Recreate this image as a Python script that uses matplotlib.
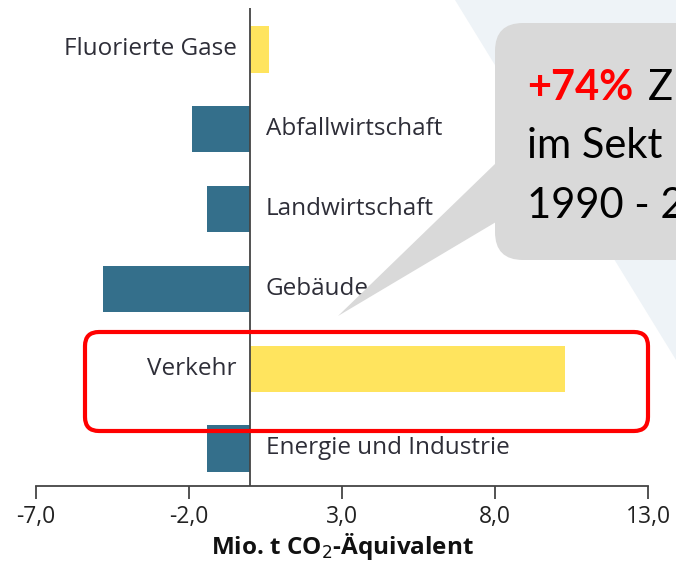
import matplotlib.pyplot as plt
from matplotlib.patches import FancyBboxPatch, Polygon

# data (Mio. t CO2-Äquivalent), bottom to top
sectors = ['Energie und Industrie', 'Verkehr', 'Gebäude',
           'Landwirtschaft', 'Abfallwirtschaft', 'Fluorierte Gase']
values = [-1.4, 10.3, -4.8, -1.4, -1.9, 0.6]
ticks = [-7, -2, 3, 8, 13]
tick_labels = ['-7,0', '-2,0', '3,0', '8,0', '13,0']

teal = '#346f8b'
yellow = '#ffe45e'
label_col = '#2e2e38'

fig = plt.figure(figsize=(6.76, 5.70), dpi=100)
fig.patch.set_facecolor('white')

# background overlay in pixel coords (light diagonal shape)
bg = fig.add_axes([0, 0, 1, 1], zorder=0)
bg.set_xlim(0, 676)
bg.set_ylim(570, 0)
bg.axis('off')
bg.add_patch(Polygon([(455, 0), (676, 0), (676, 360)], closed=True,
                     facecolor='#eef3f7', edgecolor='none'))

# main chart
ax = fig.add_axes([36 / 676, 84 / 570, 612 / 676, 478 / 570], zorder=1)
ax.set_facecolor('none')
y = list(range(len(sectors)))
colors = [yellow if v > 0 else teal for v in values]
ax.barh(y, values, height=0.58, color=colors, zorder=2)
ax.axvline(0, color='#444444', lw=1.3, zorder=3)

for yi, v, name in zip(y, values, sectors):
    if v < 0:
        ax.text(0.5, yi, name, ha='left', va='center', fontsize=17.5,
                family='Open Sans', color=label_col)
    else:
        ax.text(-0.45, yi, name, ha='right', va='center', fontsize=17.5,
                family='Open Sans', color=label_col)

ax.set_xlim(-7, 13)
ax.set_ylim(-0.47, 5.52)
ax.set_yticks([])
ax.set_xticks(ticks)
ax.set_xticklabels(tick_labels, fontsize=16.5, family='Open Sans', color='#222222')
ax.tick_params(axis='x', length=9, width=1.3, color='#444444', pad=5)
for s in ['top', 'right', 'left']:
    ax.spines[s].set_visible(False)
ax.spines['bottom'].set_color('#444444')
ax.spines['bottom'].set_linewidth(1.3)
ax.set_xlabel('Mio. t CO$_2$-Äquivalent', fontsize=17.5, fontweight='bold',
              family='Open Sans', color='#111111', labelpad=1)

# callout and highlight on top
ov = fig.add_axes([0, 0, 1, 1], zorder=3)
ov.set_xlim(0, 676)
ov.set_ylim(570, 0)
ov.axis('off')
ov.add_patch(Polygon([(496, 163), (496, 222), (338, 316)], closed=True,
                     facecolor='#d9d9d9', edgecolor='none'))
ov.add_patch(FancyBboxPatch((495, 23), 260, 237,
                            boxstyle='round,pad=0,rounding_size=28',
                            facecolor='#d9d9d9', edgecolor='none'))
ov.text(527, 100, '+74%', fontsize=30, fontweight='bold', color='#ff0000',
        family='Lato', va='baseline', ha='left')
ov.text(648, 100, 'Z', fontsize=30, color='black', family='Lato',
        va='baseline', ha='left')
ov.text(527, 158, 'im Sekt', fontsize=30, color='black', family='Lato',
        va='baseline', ha='left')
ov.text(527, 218, '1990 - 2', fontsize=30, color='black', family='Lato',
        va='baseline', ha='left')
ov.add_patch(FancyBboxPatch((85, 332), 563, 99,
                            boxstyle='round,pad=0,rounding_size=14',
                            facecolor='none', edgecolor='#ff0000', lw=3))

fig.savefig('out.png', dpi=100)
